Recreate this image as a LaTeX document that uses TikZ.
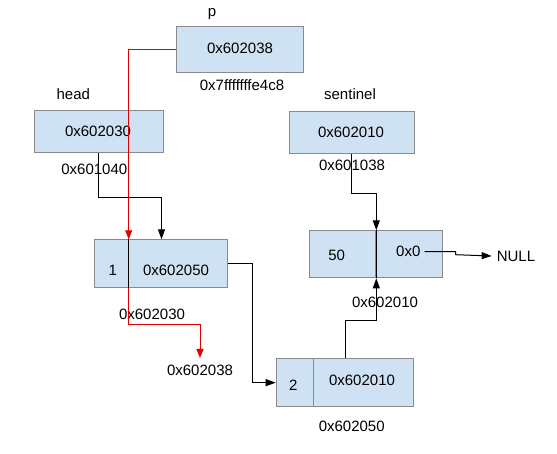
\documentclass[tikz,border=0pt]{standalone}
\usepackage{fontspec}
\setmainfont{Liberation Sans}
\usetikzlibrary{arrows.meta}
\definecolor{cellfill}{HTML}{CFE2F3}
\definecolor{cellline}{HTML}{8A8A8A}
\definecolor{ptrred}{HTML}{E00000}
\begin{document}
\begin{tikzpicture}[x=1pt,y=-1pt,
  cell/.style={draw=cellline,fill=cellfill,line width=1pt,inner sep=0pt,anchor=north west},
  lbl/.style={inner sep=2pt,font=\fontsize{15}{18}\selectfont},
  conn/.style={line width=1pt,-{Triangle[length=10pt,width=7pt]}},
  rconn/.style={line width=1pt,draw=ptrred,-{Triangle[length=9pt,width=7pt]},color=ptrred}]
\useasboundingbox (0,0) rectangle (557,453);
\fill[white] (0,0) rectangle (557,453);
% boxes
\node[cell,minimum width=127.3pt,minimum height=46.3pt] (pbox) at (175.7,25.7) {};
\node[cell,minimum width=128.7pt,minimum height=42pt] (headbox) at (34,110) {};
\node[cell,minimum width=124.7pt,minimum height=42pt] (sentbox) at (289,111) {};
\node[cell,minimum width=33.4pt,minimum height=48pt] (c1l) at (94.3,239.3) {};
\node[cell,minimum width=99.6pt,minimum height=48pt] (c1r) at (127.7,239.3) {};
\node[cell,minimum width=66.6pt,minimum height=47pt] (c50l) at (308.7,230.3) {};
\node[cell,minimum width=67pt,minimum height=47pt] (c50r) at (375.3,230.3) {};
\node[cell,minimum width=37.6pt,minimum height=47.7pt] (c2l) at (275.7,358.3) {};
\node[cell,minimum width=100pt,minimum height=47.7pt] (c2r) at (313.3,358.3) {};
% texts
\node[lbl] (tp) at (212,14) {p};
\node[lbl] (tpv) at (240,48) {0x602038};
\node[lbl] (tpa) at (242,85.5) {0x7fffffffe4c8};
\node[lbl] (th) at (73.3,94.3) {head};
\node[lbl] (thv) at (98,131) {0x602030};
\node[lbl] (tha) at (94.3,169.3) {0x601040};
\node[lbl] (ts) at (350,94) {sentinel};
\node[lbl] (tsv) at (351,132) {0x602010};
\node[lbl] (tsa) at (352,165.7) {0x601038};
\node[lbl] (t50) at (336.7,255.7) {50};
\node[lbl,inner xsep=4pt] (t0x0) at (408.3,251.7) {0x0};
\node[lbl,inner xsep=5pt] (tnull) at (516,256) {NULL};
\node[lbl] (t50a) at (385,302.3) {0x602010};
\node[lbl] (t1) at (112.7,270) {1};
\node[lbl] (t1v) at (176,270) {0x602050};
\node[lbl] (t1a) at (152,314) {0x602030};
\node[lbl,inner ysep=6.5pt] (tp2) at (200,370) {0x602038};
\node[lbl] (t2) at (293.3,385) {2};
\node[lbl] (t2v) at (362,380) {0x602010};
\node[lbl] (t2a) at (351.7,426.7) {0x602050};
% connectors
\draw[conn] (headbox.south) -- ++(0,44) -| ([xshift=-16.5pt]c1r.north);
\draw[rconn] (pbox.west) -| (c1l.north east);
\draw[line width=1pt] (c1l.north east) -- (c1l.south east);
\draw[rconn] (c1l.south east) -- ++(0,35.7) -| (tp2.north);
\draw[conn] (c1r.east) -- ++(24,0) |- (c2l.west);
\draw[conn] ([xshift=-18.6pt]c2r.north) -- ++(0,-38) -| (c50l.south east);
\draw[conn] (sentbox.south) -- ++(0,39.3) -| (c50l.north east);
\draw[line width=1pt] (c50l.north east) -- (c50l.south east);
\draw[conn] (t0x0.east) -- ++(31,0) -- ++(0,3) -- (tnull.west);
\end{tikzpicture}
\end{document}
